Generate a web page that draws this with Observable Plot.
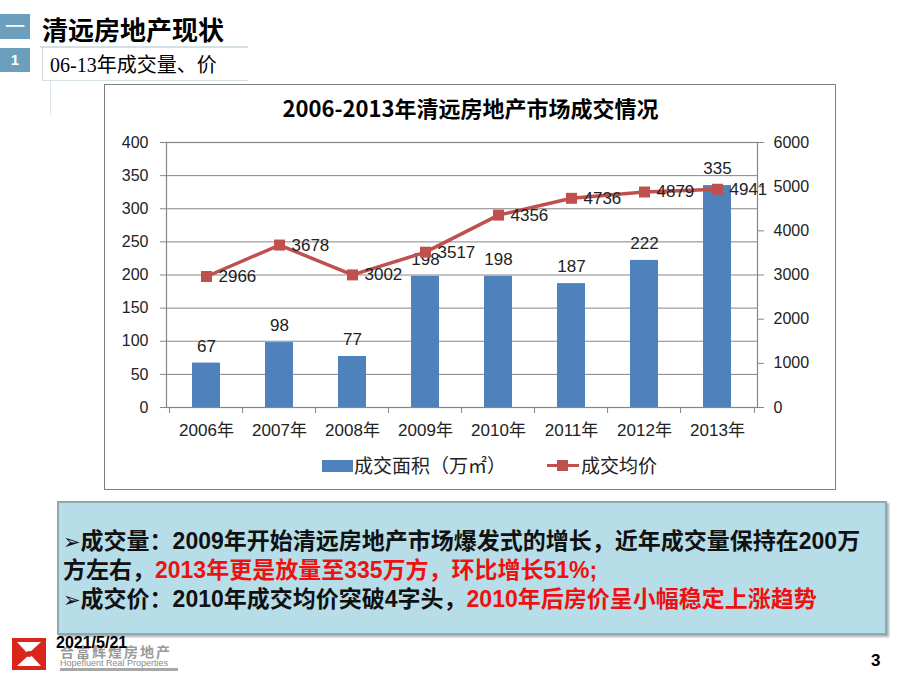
<!DOCTYPE html>
<html>
<head>
<meta charset="utf-8">
<script src="https://cdn.jsdelivr.net/npm/d3@7"></script>
<script src="https://cdn.jsdelivr.net/npm/@observablehq/plot@0.6"></script>
<style>
  html, body { margin: 0; padding: 0; background: #fff; }
  #page { position: relative; width: 920px; height: 690px; overflow: hidden; font-family: "Liberation Sans", "Noto Sans CJK SC", sans-serif; }
  .abs { position: absolute; white-space: nowrap; }
  .hbox { position: absolute; left: 0; width: 30px; background: #6C9FBD; color: #fff; text-align: center; }
  #chartbox { position: absolute; left: 104px; top: 84px; width: 730px; height: 404px; border: 1.5px solid #7f7f7f; background: #fff; }
  #plot { position: absolute; left: 104px; top: 84px; }
  #textbox { position: absolute; left: 57px; top: 501px; width: 826px; height: 130px; background: #B7DEE8; border: 2px solid #8fa9b1; box-shadow: 2px 2px 2px #b0b0b0; }
  .tl { position: absolute; left: 4px; font-size: 23px; font-weight: bold; color: #111; white-space: nowrap; line-height: 28px; font-family: "Liberation Sans", "Noto Sans CJK SC", sans-serif; }
  .red { color: #EE1111; }
  .arr { font-family: 'DejaVu Sans'; font-size: 21px; font-weight: normal; }
</style>
</head>
<body>
<div id="page">
  <!-- header -->
  <div class="hbox" style="top:14px;height:25px;font-size:20px;line-height:24px;font-family:'Noto Sans CJK SC';">一</div>
  <div class="abs" style="left:42px;top:11px;font-size:26px;font-weight:bold;font-family:'Noto Sans CJK SC';color:#000;line-height:36px;">清远房地产现状</div>
  <div class="abs" style="left:40px;top:46px;width:208px;height:2px;background:#d5e0e6;"></div>
  <div class="hbox" style="top:48px;height:24px;font-size:15px;font-weight:bold;line-height:24px;">1</div>
  <div class="abs" style="left:42px;top:47px;width:1px;height:34px;background:#c9d6de;"></div>
  <div class="abs" style="left:50px;top:51px;font-size:20px;font-family:'Liberation Serif','Noto Sans CJK SC';color:#000;line-height:28px;">06-13年成交量、价</div>
  <div class="abs" style="left:42px;top:80px;width:206px;height:1px;background:#d5e0e6;"></div>
  <div class="abs" style="left:50px;top:81px;width:1px;height:34px;background:#dde6ec;"></div>

  <!-- chart -->
  <div id="chartbox"></div>
  <div class="abs" style="left:104px;width:733px;top:92px;text-align:center;font-size:22px;font-weight:bold;font-family:'Noto Sans CJK SC';color:#000;line-height:30px;">2006-2013年清远房地产市场成交情况</div>
  <div id="plot"></div>
  <div class="abs" style="left:322px;top:460px;width:31px;height:12px;background:#4F81BD;"></div>
  <div class="abs" style="left:354px;top:452px;font-size:19px;color:#222;font-family:'Noto Sans CJK SC';line-height:26px;">成交面积（万㎡）</div>
  <div class="abs" style="left:547px;top:464px;width:32px;height:3px;background:#C0504D;"></div>
  <div class="abs" style="left:557px;top:460px;width:11px;height:11px;background:#C0504D;"></div>
  <div class="abs" style="left:581px;top:452px;font-size:19px;color:#222;font-family:'Noto Sans CJK SC';line-height:26px;">成交均价</div>

  <!-- text box -->
  <div id="textbox">
    <div class="tl" style="top:24px;"><span class="arr">➢</span>成交量：2009年开始清远房地产市场爆发式的增长，近年成交量保持在200万</div>
    <div class="tl" style="top:53px;">方左右，<span class="red">2013年更是放量至335万方，环比增长51%;</span></div>
    <div class="tl" style="top:82px;"><span class="arr">➢</span>成交价：2010年成交均价突破4字头，<span class="red">2010年后房价呈小幅稳定上涨趋势</span></div>
  </div>

  <!-- footer -->
  <svg class="abs" style="left:12px;top:638px;" width="34" height="32" viewBox="0 0 34 32">
    <rect x="0" y="0" width="34" height="32" fill="#D9261C"/>
    <polygon points="5,4 29,4 17,15 29,28 5,28 17,17" fill="#fff"/>
    <circle cx="17" cy="16" r="3" fill="#D9261C"/>
  </svg>
  <div class="abs" style="left:60px;top:643px;font-size:14px;font-weight:bold;color:#9a9a9a;font-family:'Noto Sans CJK SC';letter-spacing:2px;line-height:16px;">合富辉煌房地产</div>
  <div class="abs" style="left:60px;top:658px;font-size:9px;color:#8a8a8a;line-height:10px;">Hopefluent Real Properties</div>
  <div class="abs" style="left:60px;top:668px;width:118px;height:3px;background:#a8a8a8;"></div>
  <div class="abs" style="left:56px;top:634px;font-size:16px;font-weight:bold;color:#000;line-height:18px;">2021/5/21</div>
  <div class="abs" style="left:871px;top:651px;font-size:17px;font-weight:bold;color:#000;line-height:20px;">3</div>
</div>
<script>
// ---- data ----
const years = ["2006年", "2007年", "2008年", "2009年", "2010年", "2011年", "2012年", "2013年"];
const area = [67, 98, 77, 198, 198, 187, 222, 335];          // 成交面积（万㎡）
const price = [2966, 3678, 3002, 3517, 4356, 4736, 4879, 4941]; // 成交均价
const leftTicks = [0, 50, 100, 150, 200, 250, 300, 350, 400];
const rightTicks = [0, 1000, 2000, 3000, 4000, 5000, 6000];
const ratio = 6000 / 400; // right axis / left axis

const rows = years.map((y, i) => ({year: y, area: area[i], price: price[i], p: price[i] / ratio}));

const W = 732, H = 406;
const mL = 62, mR = 79, mT = 58, mB = 83;
const step = (W - mL - mR) / years.length;
const grid = "#868686";
const font = "'Liberation Sans', 'Noto Sans CJK SC', sans-serif";

const chart = Plot.plot({
  width: W, height: H,
  marginLeft: mL, marginRight: mR, marginTop: mT, marginBottom: mB,
  style: {fontFamily: font, fontSize: "16px", color: "#222", background: "transparent", overflow: "visible"},
  x: {domain: years, paddingInner: 0.615, paddingOuter: 0.3075, label: null},
  y: {domain: [0, 400], label: null},
  marks: [
    Plot.gridY(leftTicks, {stroke: grid, strokeOpacity: 1}),
    Plot.barY(rows, {x: "year", y: "area", fill: "#4F81BD"}),
    Plot.frame({stroke: grid, strokeWidth: 1.2}),
    Plot.axisY(leftTicks, {anchor: "left", tickSize: 6, tickPadding: 12, stroke: grid, fill: "#222", fontSize: 16, label: null}),
    Plot.axisY(rightTicks.map(v => v / ratio), {anchor: "right", tickSize: 6, tickPadding: 10, stroke: grid, fill: "#222", fontSize: 16, tickFormat: d => String(Math.round(d * ratio)), label: null}),
    Plot.axisX(years, {tickSize: 0, tickPadding: 16, fill: "#222", fontSize: 17, label: null}),
    Plot.ruleX(years, {x: d => d, dx: -step / 2, insetTop: H - mT - mB, insetBottom: -6, stroke: grid}),
    Plot.ruleX(years.slice(-1), {x: d => d, dx: step / 2, insetTop: H - mT - mB, insetBottom: -6, stroke: grid}),
    Plot.text(rows, {x: "year", y: "area", text: d => String(d.area), dy: -17, fontSize: 17, fill: "#222"}),
    Plot.line(rows, {x: "year", y: "p", stroke: "#C0504D", strokeWidth: 3.5}),
    Plot.dot(rows, {x: "year", y: "p", symbol: "square", r: 6.2, fill: "#C0504D", stroke: "none"}),
    Plot.text(rows, {x: "year", y: "p", text: d => String(d.price), dx: 12, textAnchor: "start", fontSize: 17, fill: "#222"})
  ]
});
document.getElementById("plot").appendChild(chart);
</script>
</body>
</html>
